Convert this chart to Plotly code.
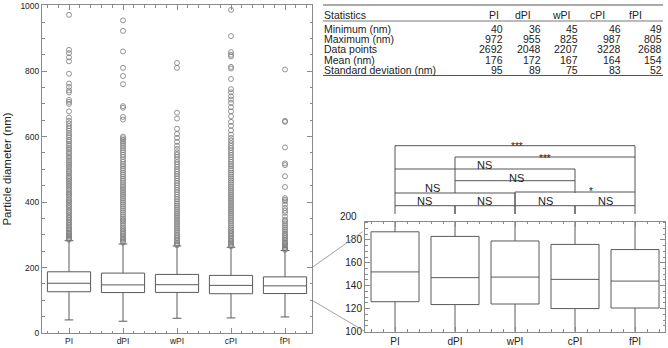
import plotly.graph_objects as go

W, H = 668, 348
FONT = "Liberation Sans, Arial, sans-serif"

# ---------------- data ----------------
categories = ["PI", "dPI", "wPI", "cPI", "fPI"]
lower_whisker = [40, 36, 45, 46, 49]
q1_vals = [126, 123.5, 124, 120, 120.5]
median_vals = [152, 147, 147.5, 145.5, 144]
q3_vals = [187, 183, 179, 176, 171.5]
upper_whisker = [282, 272, 266, 262, 252]

outliers_PI = [972, 865, 855, 842, 830, 792, 762, 752, 741, 735, 712, 706, 700, 677, 658, 648,
               640, 632, 625, 618, 610, 604, 598, 590, 585, 578, 572, 565, 560, 553, 547, 540,
               535, 528, 522, 516, 510, 505, 498, 492, 487, 480, 475, 470, 464, 458, 452, 447,
               441, 436, 430, 425, 420, 414, 408, 403, 398, 392, 387, 382, 376, 371, 366, 360,
               355, 350, 345, 340, 335, 330, 325, 320, 316, 311, 307, 303, 299, 295, 291, 288, 285]
outliers_dPI = [955, 923, 860, 810, 785, 760, 693, 688, 660, 652, 600, 595, 590, 584, 578, 572,
                565, 558, 552, 545, 538, 530, 523, 516, 510, 503, 497, 490, 484, 478, 471, 465,
                459, 452, 446, 440, 434, 428, 422, 416, 410, 404, 398, 392, 386, 380, 374, 368,
                362, 356, 350, 345, 340, 334, 328, 322, 317, 312, 307, 302, 297, 292, 288, 284, 280, 276]
outliers_wPI = [825, 810, 673, 655, 624, 608, 596, 584, 572, 562, 552, 545, 538, 530, 522, 515,
                508, 500, 493, 486, 479, 472, 465, 458, 451, 444, 437, 430, 423, 416, 409, 402,
                396, 390, 384, 378, 372, 366, 360, 354, 348, 342, 336, 330, 324, 318, 312, 306,
                300, 295, 290, 285, 280, 275, 271, 268]
outliers_cPI = [987, 907, 858, 850, 845, 813, 808, 776, 745, 735, 723, 713, 703, 690, 677, 662,
                645, 633, 619, 606, 596, 588, 580, 572, 565, 558, 551, 544, 537, 530, 523, 516,
                510, 503, 497, 490, 484, 478, 472, 466, 460, 454, 448, 442, 436, 430, 424, 418,
                412, 406, 400, 394, 388, 382, 376, 370, 364, 358, 352, 346, 340, 334, 328, 322,
                316, 311, 306, 301, 296, 291, 286, 281, 277, 273, 269, 265]
outliers_fPI = [805, 648, 645, 567, 518, 513, 479, 446, 412, 407, 402, 392, 382, 374, 367, 356,
                346, 341, 335, 329, 323, 317, 311, 305, 300, 295, 290, 285, 280, 276, 272, 268,
                264, 260, 257, 254]
outliers = [outliers_PI, outliers_dPI, outliers_wPI, outliers_cPI, outliers_fPI]

stat_labels = ["Minimum (nm)", "Maximum (nm)", "Data points", "Mean (nm)", "Standard deviation (nm)"]
stat_minimum = [40, 36, 45, 46, 49]
stat_maximum = [972, 955, 825, 987, 805]
stat_points = [2692, 2048, 2207, 3228, 2688]
stat_mean = [176, 172, 167, 164, 154]
stat_sd = [95, 89, 75, 83, 52]
stat_rows = [stat_minimum, stat_maximum, stat_points, stat_mean, stat_sd]

# significance comparisons: (group a, group b, label)
comparisons = [
    (0, 1, "NS"), (1, 2, "NS"), (2, 3, "NS"), (3, 4, "NS"),
    (0, 2, "NS"), (2, 4, "*"), (1, 3, "NS"), (0, 3, "NS"),
    (1, 4, "***"), (0, 4, "***"),
]

# ---------------- layout helpers (pixel -> paper) ----------------
def px(x):
    return x / W

def py(y):
    return 1 - y / H

LEFT_X = (42, 312)
LEFT_Y = (333, 5)          # pixel y of bottom, top
RIGHT_X = (365, 665)
RIGHT_Y = (331.5, 221.5)
LEFT_RANGE = (0, 1002)
RIGHT_RANGE = (100, 196)

def left_val_to_paper(v):
    d0, d1 = py(LEFT_Y[0]), py(LEFT_Y[1])
    return d0 + (v - LEFT_RANGE[0]) / (LEFT_RANGE[1] - LEFT_RANGE[0]) * (d1 - d0)

def right_val_to_paper(v):
    d0, d1 = py(RIGHT_Y[0]), py(RIGHT_Y[1])
    return d0 + (v - RIGHT_RANGE[0]) / (RIGHT_RANGE[1] - RIGHT_RANGE[0]) * (d1 - d0)

BOX_COLOR = "#5a5a5a"
AXIS_COLOR = "#8a8a8a"
TEXT_COLOR = "#222222"
positions = list(range(len(categories)))

fig = go.Figure()

for xa, ya in (("x", "y"), ("x2", "y2")):
    fig.add_trace(go.Box(
        x=positions, q1=q1_vals, median=median_vals, q3=q3_vals,
        lowerfence=lower_whisker, upperfence=upper_whisker,
        width=0.8, whiskerwidth=0.2, boxpoints=False,
        fillcolor="rgba(0,0,0,0)", line=dict(color=BOX_COLOR, width=1),
        xaxis=xa, yaxis=ya, showlegend=False, hoverinfo="skip",
    ))

for i, vals in enumerate(outliers):
    fig.add_trace(go.Scatter(
        x=[i] * len(vals), y=vals, mode="markers",
        marker=dict(symbol="circle-open", size=5, color="#7a7a7a", line=dict(width=0.8)),
        xaxis="x", yaxis="y", showlegend=False, hoverinfo="skip",
    ))

common_x = dict(
    range=[-0.5, 4.5], tickmode="array", tickvals=positions, ticktext=categories,
    ticks="inside", ticklen=5, tickcolor=AXIS_COLOR, showline=True, linecolor=AXIS_COLOR,
    linewidth=1, mirror="ticks", showgrid=False, zeroline=False, automargin=False,
    minor=dict(tickmode="linear", tick0=0, dtick=0.2, ticks="inside", ticklen=2.5,
               tickcolor=AXIS_COLOR, showgrid=False),
)
common_y = dict(
    ticks="inside", ticklen=5, tickcolor=AXIS_COLOR, showline=True, linecolor=AXIS_COLOR,
    linewidth=1, mirror="ticks", showgrid=False, zeroline=False, tickmode="linear",
    automargin=False,
)

fig.update_layout(
    width=W, height=H, margin=dict(l=0, r=0, t=0, b=0, pad=0), autosize=False,
    paper_bgcolor="white", plot_bgcolor="white",
    font=dict(family=FONT, color=TEXT_COLOR),
    xaxis=dict(domain=[px(LEFT_X[0]), px(LEFT_X[1])], anchor="y",
               tickfont=dict(size=8.5), **common_x),
    yaxis=dict(domain=[py(LEFT_Y[0]), py(LEFT_Y[1])], anchor="x", range=list(LEFT_RANGE),
               tick0=0, dtick=200, tickfont=dict(size=8.5),
               minor=dict(tickmode="linear", tick0=0, dtick=50, ticks="inside", ticklen=2.5,
                          tickcolor=AXIS_COLOR, showgrid=False),
               title=dict(text="Particle diameter (nm)", font=dict(size=11.5), standoff=6),
               **common_y),
    xaxis2=dict(domain=[px(RIGHT_X[0]), px(RIGHT_X[1])], anchor="y2",
                tickfont=dict(size=10), **common_x),
    yaxis2=dict(domain=[py(RIGHT_Y[0]), py(RIGHT_Y[1])], anchor="x2", range=list(RIGHT_RANGE),
                tick0=100, dtick=20, tickfont=dict(size=10),
                minor=dict(tickmode="linear", tick0=100, dtick=5, ticks="inside", ticklen=2.5,
                           tickcolor=AXIS_COLOR, showgrid=False),
                **common_y),
)

shapes = []
annotations = []

# "200" label at the top edge of the zoomed panel
annotations.append(dict(x=px(RIGHT_X[0] - 7), y=right_val_to_paper(200), xref="paper", yref="paper",
                        text="200", showarrow=False, xanchor="right", yanchor="middle",
                        borderpad=0, font=dict(size=10, color=TEXT_COLOR)))

# connector lines between the two panels
shapes.append(dict(type="line", xref="paper", yref="paper",
                   x0=px(LEFT_X[1]), y0=left_val_to_paper(200),
                   x1=px(RIGHT_X[0] - 2.5), y1=right_val_to_paper(187),
                   line=dict(color="#8a8a8a", width=0.8)))
shapes.append(dict(type="line", xref="paper", yref="paper",
                   x0=px(LEFT_X[1]), y0=left_val_to_paper(100),
                   x1=px(RIGHT_X[0]), y1=right_val_to_paper(100),
                   line=dict(color="#8a8a8a", width=0.8)))

# significance brackets (pixel y levels: line, left leg end, right leg end, label x, label y)
bracket_geom = [
    (205.7, 214, 214, None, 201.5),
    (205.7, 214, 214, None, 201.5),
    (205.7, 214, 214, None, 201.5),
    (205.7, 214, 214, None, 201.5),
    (193, 205.7, 205.7, 0.62, 187.5),
    (192, 205.7, 205.7, 3.27, 191.5),
    (180.7, 193, 193, 2.02, 177.5),
    (169, 193, 180.7, 1.5, 165),
    (157, 180.7, 192, 2.5, 158),
    (145.7, 169, 157, 2.03, 146.5),
]
for (a, b, lab), (yl, yla, ylb, lx, ly) in zip(comparisons, bracket_geom):
    shapes.append(dict(type="path", xref="x2", yref="paper",
                       path=f"M {a},{py(yla)} L {a},{py(yl)} L {b},{py(yl)} L {b},{py(ylb)}",
                       line=dict(color="#555555", width=1)))
    annotations.append(dict(x=(a + b) / 2 if lx is None else lx, y=py(ly), xref="x2", yref="paper",
                            text=lab, showarrow=False, xanchor="center", yanchor="middle",
                            borderpad=0,
                            font=dict(size=11 if lab == "NS" else 10, color=TEXT_COLOR)))

# statistics table
TABLE_LEFT, TABLE_RIGHT = 323, 663
head_x = [488, 514, 551, 589, 628]
val_x = [504, 542, 579, 622, 663]
head_y = 15.5
row_y = [29, 39.2, 49.4, 59.6, 70]
tfont = dict(size=10.5, color=TEXT_COLOR)

for yy, w in ((5, 1.2), (21, 0.8), (75.5, 1.2)):
    shapes.append(dict(type="line", xref="paper", yref="paper",
                       x0=px(TABLE_LEFT), x1=px(TABLE_RIGHT), y0=py(yy), y1=py(yy),
                       line=dict(color="#555555", width=w)))

annotations.append(dict(x=px(TABLE_LEFT), y=py(head_y), xref="paper", yref="paper",
                        text="Statistics", showarrow=False, xanchor="left", yanchor="middle",
                        borderpad=0, font=tfont))
for c, hx in zip(categories, head_x):
    annotations.append(dict(x=px(hx), y=py(head_y), xref="paper", yref="paper", text=c,
                            showarrow=False, xanchor="left", yanchor="middle", borderpad=0,
                            font=tfont))
for lab, vals, ry in zip(stat_labels, stat_rows, row_y):
    annotations.append(dict(x=px(TABLE_LEFT), y=py(ry), xref="paper", yref="paper", text=lab,
                            showarrow=False, xanchor="left", yanchor="middle", borderpad=0,
                            font=tfont))
    for v, vx in zip(vals, val_x):
        annotations.append(dict(x=px(vx), y=py(ry), xref="paper", yref="paper", text=str(v),
                                showarrow=False, xanchor="right", yanchor="middle", borderpad=0,
                                font=tfont))

fig.update_layout(shapes=shapes, annotations=annotations)
fig.write_html("out.html", config={"displayModeBar": False},
               post_script="document.body.style.margin='0';document.body.style.overflow='hidden';")
